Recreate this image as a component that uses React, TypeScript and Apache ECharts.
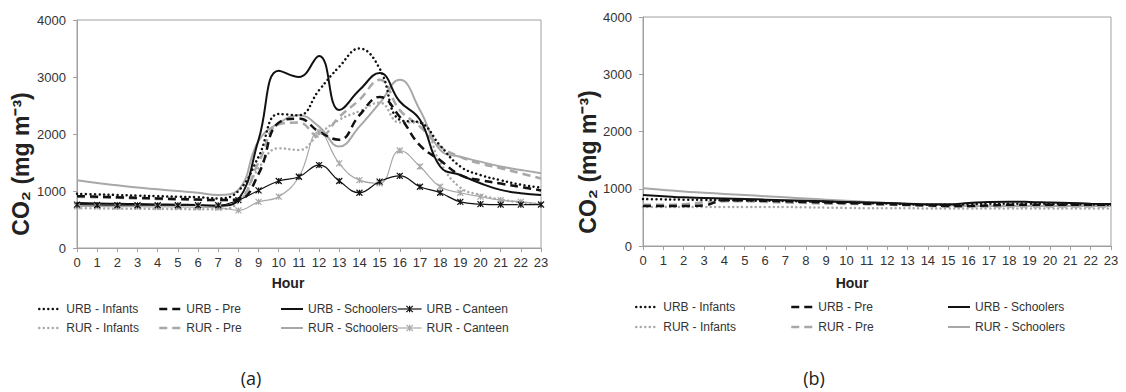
import React, { useEffect, useRef } from "react";
import * as echarts from "echarts";

const hours = [0, 1, 2, 3, 4, 5, 6, 7, 8, 9, 10, 11, 12, 13, 14, 15, 16, 17, 18, 19, 20, 21, 22, 23];
const yTicks = { min: 0, max: 4000, interval: 1000 };

// Panel (a)
const aUrbInfants = [950, 940, 930, 920, 910, 900, 890, 870, 1000, 1600, 2350, 2330, 2770, 3180, 3500, 3150, 2250, 2200, 1800, 1430, 1280, 1190, 1110, 1060];
const aUrbPre = [910, 900, 890, 880, 870, 860, 850, 840, 850, 1300, 2200, 2270, 2040, 1900, 2330, 2650, 2300, 1800, 1540, 1280, 1190, 1130, 1070, 1010];
const aUrbSchoolers = [790, 780, 775, 770, 765, 760, 755, 740, 850, 1900, 3110, 3000, 3370, 2420, 2770, 3070, 2570, 2250, 1430, 1280, 1135, 1020, 960, 930];
const aUrbCanteen = [760, 755, 750, 750, 750, 750, 750, 750, 840, 1010, 1175, 1250, 1455, 1175, 970, 1165, 1265, 1075, 970, 810, 770, 760, 760, 760];
const aRurInfants = [700, 695, 690, 690, 685, 685, 680, 680, 800, 1400, 1750, 1720, 2000, 2250, 2400, 2550, 2200, 2200, 1500, 1060, 930, 850, 800, 770];
const aRurPre = [900, 890, 880, 870, 860, 850, 845, 840, 870, 1500, 2170, 2200, 1950, 2300, 2600, 2950, 2420, 2130, 1780, 1600, 1480, 1400, 1310, 1220];
const aRurSchoolers = [1190, 1140, 1100, 1060, 1030, 1000, 970, 930, 1020, 1880, 2190, 2330, 2130, 1780, 2130, 2540, 2950, 2420, 1720, 1600, 1515, 1430, 1370, 1310];
const aRurCanteen = [730, 730, 725, 725, 720, 720, 715, 710, 660, 810, 900, 1250, 2040, 1485, 1190, 1135, 1710, 1430, 1075, 970, 900, 840, 810, 770];

// Panel (b)
const bUrbInfants = [820, 815, 810, 805, 800, 795, 790, 785, 780, 770, 760, 750, 740, 730, 720, 720, 730, 740, 740, 740, 735, 730, 725, 720];
const bUrbPre = [700, 700, 700, 710, 800, 800, 790, 780, 770, 760, 750, 740, 730, 720, 710, 700, 700, 710, 720, 720, 720, 720, 720, 720];
const bUrbSchoolers = [890, 870, 850, 840, 830, 820, 810, 800, 790, 780, 770, 760, 750, 740, 730, 730, 750, 770, 775, 770, 760, 750, 740, 735];
const bRurInfants = [680, 680, 680, 680, 680, 680, 680, 680, 675, 670, 665, 660, 660, 660, 655, 655, 655, 655, 655, 655, 655, 655, 655, 655];
const bRurPre = [720, 720, 730, 760, 780, 780, 770, 760, 750, 740, 735, 730, 720, 710, 700, 690, 690, 690, 690, 690, 690, 690, 690, 690];
const bRurSchoolers = [1010, 980, 950, 930, 910, 890, 870, 850, 830, 810, 790, 770, 750, 730, 720, 710, 700, 700, 700, 700, 700, 700, 700, 700];

const N_UI = "URB - Infants";
const N_UP = "URB - Pre";
const N_US = "URB - Schoolers";
const N_UC = "URB - Canteen";
const N_RI = "RUR - Infants";
const N_RP = "RUR - Pre";
const N_RS = "RUR - Schoolers";
const N_RC = "RUR - Canteen";

const BLACK = "#111111";
const GRAY = "#a8a8a8";
const AXIS = "#a0a0a0";
const TXT = "#333333";
const FONT = "Arial, Liberation Sans, sans-serif";

const styles: Record<string, any> = {
  [N_UI]: { color: BLACK, width: 2.5, type: [0.01, 4.5], cap: "round" },
  [N_UP]: { color: BLACK, width: 2.5, type: [8, 5], cap: "butt" },
  [N_US]: { color: BLACK, width: 2, type: "solid", cap: "butt" },
  [N_UC]: { color: BLACK, width: 1.2, type: "solid", cap: "butt", marker: true },
  [N_RI]: { color: GRAY, width: 2.5, type: [0.01, 4.5], cap: "round" },
  [N_RP]: { color: GRAY, width: 2.5, type: [8, 5], cap: "butt" },
  [N_RS]: { color: GRAY, width: 2, type: "solid", cap: "butt" },
  [N_RC]: { color: GRAY, width: 1.2, type: "solid", cap: "butt", marker: true },
};

const XMARK = "path://M0,0L10,10M10,0L0,10M5,0L5,10";

function mk(name: string, values: number[], gi: number) {
  const s = styles[name];
  return {
    name,
    type: "line",
    xAxisIndex: gi,
    yAxisIndex: gi,
    smooth: 0.45,
    data: hours.map((h, i) => [h, values[i]]),
    symbol: s.marker ? XMARK : "none",
    symbolSize: 6,
    showSymbol: !!s.marker,
    itemStyle: { color: s.color, borderColor: s.color, borderWidth: 1.2 },
    lineStyle: { color: s.color, width: s.width, type: s.type, cap: s.cap },
    emphasis: { disabled: true },
  };
}

function axesFor(gi: number) {
  const x = {
    type: "value",
    gridIndex: gi,
    min: 0,
    max: 23,
    interval: 1,
    axisLine: { show: true, lineStyle: { color: AXIS, width: 1 } },
    axisTick: { show: true, length: 4, lineStyle: { color: AXIS } },
    splitLine: { show: false },
    axisLabel: { fontSize: 13, color: TXT, fontFamily: FONT, margin: 8, formatter: (v: number) => String(v) },
  };
  const y = {
    type: "value",
    gridIndex: gi,
    min: yTicks.min,
    max: yTicks.max,
    interval: yTicks.interval,
    axisLine: { show: true, lineStyle: { color: AXIS, width: 1 } },
    axisTick: { show: true, length: 4, lineStyle: { color: AXIS } },
    splitLine: { show: false },
    axisLabel: { fontSize: 13, color: TXT, fontFamily: FONT, margin: 11, formatter: (v: number) => String(v) },
  };
  return { x, y };
}

function leg(name: string, left: number, top: number, w: number) {
  const s = styles[name];
  return {
    data: [name],
    left,
    top,
    padding: 0,
    itemWidth: w,
    itemHeight: 8,
    itemGap: 0,
    selectedMode: false,
    itemStyle: s.marker ? { color: s.color, borderColor: s.color, borderWidth: 1.2 } : { opacity: 0 },
    lineStyle: { color: s.color, width: s.width, type: s.type, cap: s.cap, opacity: 1 },
    textStyle: { fontSize: 12, color: TXT, fontFamily: FONT },
  };
}

export default function App() {
  const ref = useRef<HTMLDivElement>(null);
  useEffect(() => {
    if (!ref.current) return;
    const chart = echarts.init(ref.current, null, { renderer: "svg" });
    const a = axesFor(0);
    const b = axesFor(1);
    const titleText = (x: number, y: number) => ({
      type: "text",
      x,
      y,
      rotation: Math.PI / 2,
      style: {
        text: "CO₂ (mg m⁻³)",
        font: `bold 23px ${FONT}`,
        fill: "#222",
        align: "center",
        verticalAlign: "middle",
      },
    });
    const hourText = (x: number, y: number) => ({
      type: "text",
      x,
      y,
      style: { text: "Hour", font: `bold 14px ${FONT}`, fill: "#222", align: "center", verticalAlign: "middle" },
    });
    const capText = (x: number, y: number, t: string) => ({
      type: "text",
      x,
      y,
      style: { text: t, font: `18px 'Open Sans', sans-serif`, fill: "#222", align: "center", verticalAlign: "middle" },
    });
    chart.setOption({
      animation: false,
      backgroundColor: "#ffffff",
      grid: [
        { left: 77, top: 20, width: 464, height: 228, show: true, borderColor: AXIS, borderWidth: 1 },
        { left: 643, top: 17, width: 468, height: 229, show: true, borderColor: AXIS, borderWidth: 1 },
      ],
      xAxis: [a.x, b.x],
      yAxis: [a.y, b.y],
      legend: [
        leg(N_UI, 38, 303, 22),
        leg(N_UP, 158, 303, 22),
        leg(N_US, 280, 303, 22),
        leg(N_UC, 397, 303, 24),
        leg(N_RI, 38, 322, 22),
        leg(N_RP, 158, 322, 22),
        leg(N_RS, 280, 322, 22),
        leg(N_RC, 397, 322, 24),
        leg(N_UI, 635, 301, 22),
        leg(N_UP, 790, 301, 22),
        leg(N_US, 947, 301, 22),
        leg(N_RI, 635, 321, 22),
        leg(N_RP, 790, 321, 22),
        leg(N_RS, 947, 321, 22),
      ],
      graphic: [
        titleText(21, 164),
        titleText(588, 162),
        hourText(288, 283),
        hourText(852, 283),
        capText(251, 378, "(a)"),
        capText(814, 378, "(b)"),
      ],
      series: [
        mk(N_RS, aRurSchoolers, 0),
        mk(N_RP, aRurPre, 0),
        mk(N_RI, aRurInfants, 0),
        mk(N_RC, aRurCanteen, 0),
        mk(N_UC, aUrbCanteen, 0),
        mk(N_UP, aUrbPre, 0),
        mk(N_UI, aUrbInfants, 0),
        mk(N_US, aUrbSchoolers, 0),
        mk(N_RS, bRurSchoolers, 1),
        mk(N_RP, bRurPre, 1),
        mk(N_RI, bRurInfants, 1),
        mk(N_UP, bUrbPre, 1),
        mk(N_UI, bUrbInfants, 1),
        mk(N_US, bUrbSchoolers, 1),
      ],
    });
    return () => chart.dispose();
  }, []);
  return (
    <div
      ref={ref}
      style={{ position: "fixed", left: 0, top: 0, width: 1126, height: 392, background: "#fff" }}
    />
  );
}
